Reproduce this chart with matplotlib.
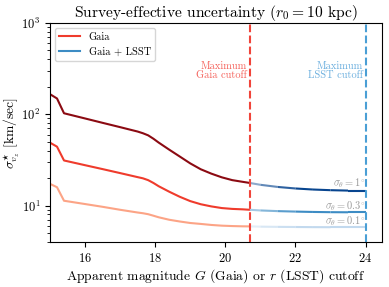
import numpy as np
import matplotlib
matplotlib.use("Agg")
import matplotlib.pyplot as plt
from matplotlib.collections import LineCollection
from matplotlib.colors import to_rgb

plt.rcParams['font.family'] = 'serif'
plt.rcParams['font.serif'] = ['cmr10']
plt.rcParams['mathtext.fontset'] = 'cm'
plt.rcParams['axes.formatter.use_mathtext'] = True

# Gaia segment (mag up to Gaia cutoff)
mag_gaia = [15.0, 15.2, 15.4, 16.0, 16.5, 17.0, 17.5, 17.65, 17.8, 17.95, 18.1, 18.4, 18.7,
            19.0, 19.3, 19.6, 19.9, 20.2, 20.5, 20.7]
gaia_1deg = [166, 149, 102.6, 90, 80.6, 72.3, 64.7, 62, 58.8, 54, 49, 41, 34.5,
             29, 25, 22.4, 20.4, 19.0, 18.2, 17.7]
gaia_03deg = [48.9, 44.2, 31.2, 27.7, 25.1, 22.7, 20.5, 19.9, 19.0, 17.7, 16.3, 14.2, 12.5,
              11.2, 10.35, 9.8, 9.4, 9.2, 9.1, 9.0]
gaia_01deg = [17.3, 15.9, 11.3, 10.4, 9.7, 9.0, 8.4, 8.25, 8.05, 7.75, 7.45, 7.0, 6.7,
              6.45, 6.3, 6.14, 6.03, 5.97, 5.93, 5.92]

# Gaia + LSST segment
mag_lsst = [20.7, 21.0, 21.5, 22.0, 22.5, 23.0, 23.5, 24.0]
lsst_1deg = [17.7, 16.9, 16.0, 15.4, 15.0, 14.75, 14.6, 14.6]
lsst_03deg = [9.0, 8.85, 8.7, 8.6, 8.52, 8.47, 8.45, 8.45]
lsst_01deg = [5.92, 5.88, 5.85, 5.83, 5.81, 5.8, 5.8, 5.8]

gaia_cut = 20.7
lsst_cut = 24.0
sigma_labels = [r'$\sigma_\theta = 1^{\circ}$', r'$\sigma_\theta = 0.3^{\circ}$', r'$\sigma_\theta = 0.1^{\circ}$']
label_y = [17.6, 9.8, 6.7]

reds = ['#8b0a12', '#ef3b2c', '#fca486']
blues = ['#08458f', '#3d8cc4', '#c2d9ee']

fig = plt.figure(figsize=(3.89, 2.87), dpi=100)
ax = fig.add_axes([0.1285, 0.157, 0.8535, 0.763])

for y, c in zip([gaia_1deg, gaia_03deg, gaia_01deg], reds):
    ax.plot(mag_gaia, y, color=c, lw=1.5)

# blue lines fade in from the left
for y, c in zip([lsst_1deg, lsst_03deg, lsst_01deg], blues):
    x = np.array(mag_lsst)
    yy = np.array(y)
    segs = [[(x[i], yy[i]), (x[i + 1], yy[i + 1])] for i in range(len(x) - 1)]
    full = np.array(to_rgb(c))
    cols = []
    for i in range(len(x) - 1):
        m = min(1.0, 0.4 + 0.6 * ((x[i] + x[i + 1]) / 2 - gaia_cut) / 1.4)
        cols.append(m * full + (1 - m) * np.ones(3))
    ax.add_collection(LineCollection(segs, colors=cols, lw=1.5))

ax.plot([], [], color='#ef3b2c', lw=1.5, label='Gaia')
ax.plot([], [], color='#3d8cc4', lw=1.5, label='Gaia + LSST')

ax.axvline(gaia_cut, color='#f0443a', ls='--', lw=1.5)
ax.axvline(lsst_cut, color='#4a9fd5', ls='--', lw=1.5)
ax.text(gaia_cut - 0.08, 300, 'Maximum\nGaia cutoff', color='#f5615a', fontsize=7.5,
        ha='right', va='center', multialignment='right', linespacing=1.0)
ax.text(lsst_cut - 0.08, 300, 'Maximum\nLSST cutoff', color='#6aaede', fontsize=7.5,
        ha='right', va='center', multialignment='right', linespacing=1.0)

for s, yv in zip(sigma_labels, label_y):
    ax.text(lsst_cut, yv, s, color='#9a9a9a', fontsize=7.5, ha='right', va='center')

ax.set_yscale('log')
ax.set_xlim(15, 24.47)
ax.set_ylim(4, 1000)
ax.set_xticks([16, 18, 20, 22, 24])
ax.tick_params(labelsize=9)
ax.set_title(r'Survey-effective uncertainty ($r_0 = 10$ kpc)', fontsize=11.2, pad=3)
ax.set_xlabel(r'Apparent magnitude $G$ (Gaia) or $r$ (LSST) cutoff', fontsize=9.8, labelpad=2)
ax.set_ylabel(r'$\sigma^{\star}_{v_z}$ [km/sec]', fontsize=9.8)
ax.yaxis.set_label_coords(-0.085, 0.5)
ax.legend(loc='upper left', fontsize=7.5)

fig.savefig('out.png', dpi=100)
